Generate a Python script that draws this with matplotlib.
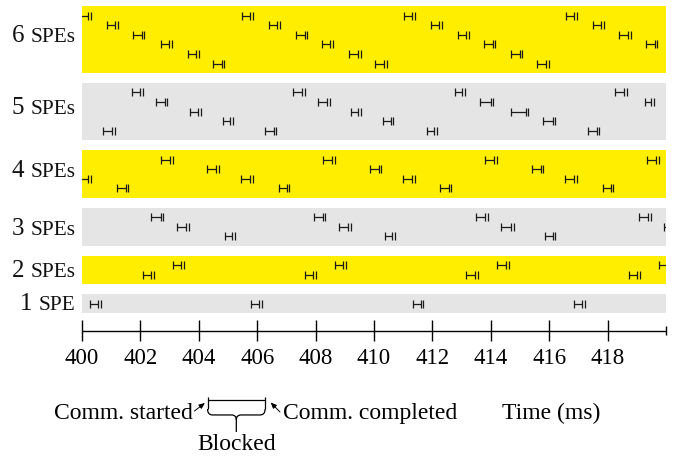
import matplotlib
matplotlib.use('Agg')
import matplotlib.pyplot as plt
from matplotlib.path import Path
from matplotlib.patches import PathPatch

plt.rcParams['font.family'] = ['Liberation Serif', 'DejaVu Serif']

# ---------------- data ----------------
spe_counts = [6, 5, 4, 3, 2, 1]
band_colors = ['#ffee00', '#e5e5e5', '#ffee00', '#e5e5e5', '#ffee00', '#e5e5e5']
x_ticks = [400, 402, 404, 406, 408, 410, 412, 414, 416, 418]
time_start, time_end = 400, 420

# (comm. started, comm. completed) in ms, one list per SPE lane (top lane first)
comm_6spe = [
    [(399.93, 400.30), (405.48, 405.86), (411.03, 411.40), (416.58, 416.95)],
    [(400.85, 401.23), (406.39, 406.78), (411.94, 412.33), (417.49, 417.88)],
    [(401.76, 402.14), (407.33, 407.72), (412.87, 413.25), (418.40, 418.79)],
    [(402.70, 403.08), (408.22, 408.60), (413.77, 414.15), (419.32, 419.70)],
    [(403.62, 404.01), (409.15, 409.54), (414.69, 415.08)],
    [(404.50, 404.88), (410.04, 410.43), (415.59, 415.98)],
]
comm_5spe = [
    [(401.70, 402.08), (407.24, 407.63), (412.77, 413.12), (418.26, 418.65)],
    [(402.53, 402.92), (408.09, 408.48), (413.63, 414.09), (419.27, 419.59)],
    [(403.70, 404.07), (409.20, 409.54), (414.69, 415.28)],
    [(404.82, 405.16), (410.30, 410.66), (415.80, 416.21)],
    [(400.73, 401.12), (406.27, 406.65), (411.80, 412.16), (417.32, 417.71)],
]
comm_4spe = [
    [(402.72, 403.11), (408.24, 408.65), (413.81, 414.20), (419.36, 419.75)],
    [(404.29, 404.68), (409.86, 410.25), (415.41, 415.80)],
    [(399.93, 400.30), (405.46, 405.85), (411.00, 411.39), (416.55, 416.94)],
    [(401.21, 401.58), (406.74, 407.10), (412.26, 412.65), (417.83, 418.19)],
]
comm_3spe = [
    [(402.37, 402.78), (407.95, 408.33), (413.49, 413.90), (419.07, 419.48)],
    [(403.26, 403.65), (408.81, 409.20), (414.36, 414.79), (419.93, 420.30)],
    [(404.89, 405.23), (410.37, 410.71), (415.87, 416.21)],
]
comm_2spe = [
    [(403.13, 403.49), (408.65, 409.04), (414.20, 414.61), (419.77, 420.14)],
    [(402.08, 402.47), (407.63, 408.01), (413.15, 413.56), (418.72, 419.11)],
]
comm_1spe = [
    [(400.27, 400.64), (405.80, 406.16), (411.33, 411.69), (416.85, 417.23)],
]
all_comms = [comm_6spe, comm_5spe, comm_4spe, comm_3spe, comm_2spe, comm_1spe]

# ---------------- layout ----------------
W, H = 675, 457
fig = plt.figure(figsize=(W / 100, H / 100), dpi=100)
ax = fig.add_axes([82 / W, 0, 584 / W, 1])
ax.set_xlim(time_start, time_end)
ax.set_ylim(46.98, -0.625)
ax.axis('off')

tick_h = 0.42      # half height of marker ticks (lane units)
end_gap = 0.09     # gap between the two closing ticks (ms)
label_base = [3.75, 11.3, 17.85, 23.9, 28.25, 31.7]

seg_x0, seg_x1, seg_y = [], [], []
vt_x, vt_y = [], []
spe_texts = []
top = 0.0
for i, (n, lanes) in enumerate(zip(spe_counts, all_comms)):
    hgt = n + 1
    ax.barh(top + hgt / 2, time_end - time_start, left=time_start, height=hgt,
            color=band_colors[i], edgecolor='none', zorder=1)
    for k, lane in enumerate(lanes):
        y = top + k + 1
        for s, e in lane:
            m = e - end_gap
            seg_x0.append(s); seg_x1.append(m); seg_y.append(y)
            for xx in (s, m, e):
                vt_x.append(xx); vt_y.append(y)
    t = ax.text(399.78, label_base[i], 'SPEs' if n > 1 else 'SPE', ha='right',
                va='baseline', fontsize=15.3, color='#111111')
    spe_texts.append((t, n, label_base[i]))
    top += hgt + 1

ax.hlines(seg_y, seg_x0, seg_x1, color='#1a1a1a', lw=0.9, zorder=3)
ax.vlines(vt_x, [y - tick_h for y in vt_y], [y + tick_h for y in vt_y],
          color='#1a1a1a', lw=0.9, zorder=3)

# ---------------- time axis ----------------
axis_y = 33.85
ax.hlines(axis_y, time_start, time_end, color='black', lw=1.0, clip_on=False)
ax.vlines(x_ticks, 32.7, 34.9, color='black', lw=1.0, clip_on=False)
ax.vlines([time_end], 33.35, 34.3, color='black', lw=1.0, clip_on=False)
for xt in x_ticks:
    ax.text(xt, 36.75, str(xt), ha='center', va='center', fontsize=16.5)

# ---------------- legend annotation ----------------
x0, x1 = 404.30, 406.27
xc = (x0 + x1) / 2
ax.hlines(41.04, x0, x1, color='black', lw=0.9, clip_on=False)
ax.vlines([x0, x1], 40.73, 41.98, color='black', lw=0.9, clip_on=False)
r = 0.17
verts = [(x0, 41.98), (x0, 42.6), (x0 + r, 42.6), (xc - r, 42.6), (xc, 42.6), (xc, 43.1),
         (x1, 41.98), (x1, 42.6), (x1 - r, 42.6), (xc + r, 42.6), (xc, 42.6), (xc, 43.1),
         (xc, 44.38)]
codes = [Path.MOVETO, Path.CURVE3, Path.CURVE3, Path.LINETO, Path.CURVE3, Path.CURVE3,
         Path.MOVETO, Path.CURVE3, Path.CURVE3, Path.LINETO, Path.CURVE3, Path.CURVE3,
         Path.LINETO]
ax.add_patch(PathPatch(Path(verts, codes), facecolor='none', edgecolor='black',
                       lw=0.9, clip_on=False))

ax.text(xc, 46.25, 'Blocked', ha='center', va='baseline', fontsize=17)
ax.text(403.78, 43.0, 'Comm. started', ha='right', va='baseline', fontsize=17)
ax.text(406.88, 43.0, 'Comm. completed', ha='left', va='baseline', fontsize=17)
ax.text(414.37, 43.0, 'Time (ms)', ha='left', va='baseline', fontsize=17)
arrow_kw = dict(arrowstyle='-|>,head_length=0.35,head_width=0.15', color='black', lw=0.7,
                shrinkA=0, shrinkB=0)
ax.annotate('', xy=(404.21, 41.35), xytext=(403.85, 42.19), arrowprops=arrow_kw,
            annotation_clip=False)
ax.annotate('', xy=(406.46, 41.30), xytext=(406.78, 42.29), arrowprops=arrow_kw,
            annotation_clip=False)

# numbers in front of the SPE labels
fig.canvas.draw()
rend = fig.canvas.get_renderer()
inv = ax.transData.inverted()
for t, n, yb in spe_texts:
    bb = t.get_window_extent(rend)
    xd = inv.transform((bb.x0 - 6.5, 0))[0]
    ax.text(xd, yb, str(n), ha='right', va='baseline', fontsize=18, color='#111111')

fig.savefig('out.png', dpi=100)
